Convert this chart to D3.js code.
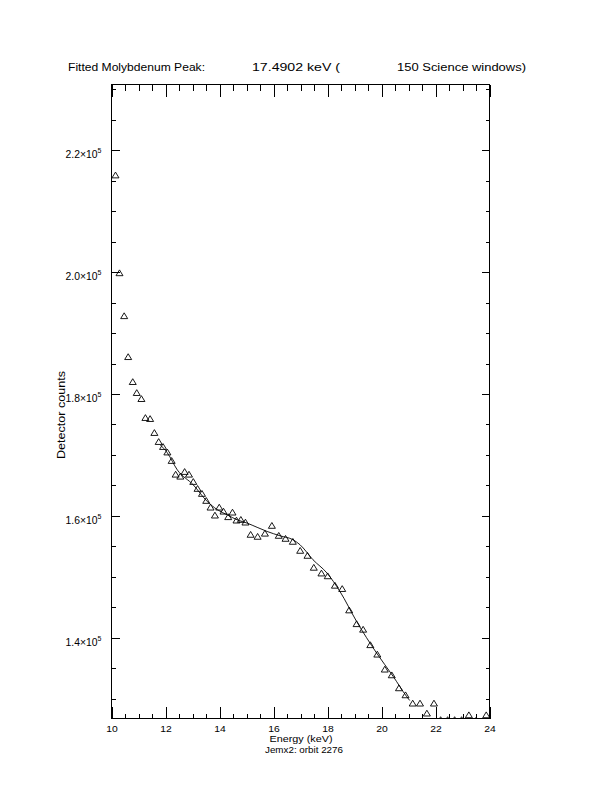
<!DOCTYPE html>
<html><head><meta charset="utf-8">
<script src="https://cdn.jsdelivr.net/npm/d3@7"></script>
<style>body{margin:0;background:#fff}svg{display:block}text{font-family:"Liberation Sans",Arial,sans-serif;fill:#000}</style>
</head><body><svg id="c" width="612" height="792"></svg>
<script>
// Measured spectrum (triangles)
const energy = [10.148,10.296,10.469,10.617,10.787,10.935,11.108,11.256,11.430,11.588,
  11.747,11.910,12.069,12.228,12.375,12.549,12.708,12.870,13.029,13.188,
  13.351,13.509,13.668,13.831,13.990,14.148,14.322,14.481,14.629,14.791,
  14.961,15.153,15.412,15.682,15.940,16.195,16.446,16.716,16.989,17.259,
  17.492,17.776,18.009,18.275,18.545,18.803,19.077,19.320,19.586,19.845,
  20.122,20.380,20.647,20.890,21.156,21.426,21.681,21.943,22.190,22.449,
  22.708,22.966,23.236,23.509,23.879];
const counts = [215900,199840,192790,186070,181970,180170,179180,176070,175900,173610,
  172130,171310,170410,169020,166770,166440,167210,166770,165570,164430,
  163610,162460,161360,160050,161360,160700,159790,160540,159230,159340,
  158900,156890,156560,157080,158360,156720,156230,155740,154260,153440,
  151480,150540,150080,148530,147990,144480,142220,141310,138770,137220,
  134760,133820,131690,130540,129180,129180,127540,129180,126470,126470,
  126470,126470,127260,126420,127260];
// Fitted curve
const fitEnergy = [11.810,12.069,12.438,13.029,13.546,13.916,14.285,14.655,15.024,15.393,
  15.763,16.243,16.723,16.982,17.462,17.979,18.460,19.076,19.815,20.428,20.923,21.045];
const fitCounts = [171640,170330,167540,165080,162350,161020,160160,159340,158800,158110,
  157430,156720,156070,155250,152790,150610,147590,142670,137490,133660,130380,129680];

const xDomain = [10, 24];
const yDomain = [126720, 230820];
const xMajorTicks = [10,12,14,16,18,20,22,24];
const xMinorTicks = d3.range(10.5, 24, 0.5).filter(v => v % 2 !== 0);
const yMajorTicks = [140000,160000,180000,200000,220000];
const yTickMantissa = ["1.4","1.6","1.8","2.0","2.2"];
const yTickExponent = "5";
const yMinorTicks = d3.range(130000, 230001, 5000).filter(v => v % 20000 !== 0);
const titleParts = ["Fitted Molybdenum Peak:", "17.4902 keV (", "150 Science windows)"];
const xTitle = "Energy (keV)";
const yTitle = "Detector counts";
const subTitle = "Jemx2: orbit 2276";

const L = 111.5, R = 489.5, T = 84.5, B = 718.5;
const svg = d3.select("#c");
const x = d3.scaleLinear(xDomain, [L, R]);
const y = d3.scaleLinear(yDomain, [B, T]);

svg.append("defs").append("clipPath").attr("id","clip")
  .append("rect").attr("x",L).attr("y",T).attr("width",R-L).attr("height",B-T);

const axStyle = g => { g.select(".domain").remove(); g.selectAll("line").attr("stroke","#000").attr("shape-rendering","crispEdges"); };

// bottom
svg.append("g").attr("transform",`translate(0,${B})`)
  .call(d3.axisBottom(x).tickValues(xMinorTicks).tickSizeInner(-5).tickSizeOuter(0).tickFormat(""))
  .call(axStyle);
const bx = svg.append("g").attr("transform",`translate(0,${B})`)
  .call(d3.axisBottom(x).tickValues(xMajorTicks).tickSizeInner(-12).tickSizeOuter(0).tickPadding(6.5).tickFormat(d3.format("d")))
  .call(axStyle);
bx.selectAll("text").attr("font-size",9.5).attr("font-family","Liberation Sans").attr("fill","#000")
  .attr("textLength",11.5).attr("lengthAdjust","spacingAndGlyphs");
// top
svg.append("g").attr("transform",`translate(0,${T})`)
  .call(d3.axisTop(x).tickValues(xMinorTicks).tickSizeInner(-6).tickSizeOuter(0).tickFormat(""))
  .call(axStyle);
svg.append("g").attr("transform",`translate(0,${T})`)
  .call(d3.axisTop(x).tickValues(xMajorTicks).tickSizeInner(-12).tickSizeOuter(0).tickFormat(""))
  .call(axStyle);
// left
svg.append("g").attr("transform",`translate(${L},0)`)
  .call(d3.axisLeft(y).tickValues(yMinorTicks).tickSizeInner(-4).tickSizeOuter(0).tickFormat(""))
  .call(axStyle);
const ly = svg.append("g").attr("transform",`translate(${L},0)`)
  .call(d3.axisLeft(y).tickValues(yMajorTicks).tickSizeInner(-8).tickSizeOuter(0).tickFormat(""))
  .call(axStyle);
ly.selectAll(".tick text").remove();
ly.selectAll(".tick").append("text")
  .attr("x",-46).attr("y",7.5).attr("font-size",10).attr("text-anchor","start")
  .attr("font-family","Liberation Sans")
  .each(function(d,i){
    const t = d3.select(this);
    t.append("tspan").attr("textLength",32).attr("lengthAdjust","spacingAndGlyphs").text(yTickMantissa[i] + "×10");
    t.append("tspan").attr("font-size",7).attr("dy",-5).text(yTickExponent);
  });
// right
svg.append("g").attr("transform",`translate(${R},0)`)
  .call(d3.axisRight(y).tickValues(yMinorTicks).tickSizeInner(-4).tickSizeOuter(0).tickFormat(""))
  .call(axStyle);
svg.append("g").attr("transform",`translate(${R},0)`)
  .call(d3.axisRight(y).tickValues(yMajorTicks).tickSizeInner(-8).tickSizeOuter(0).tickFormat(""))
  .call(axStyle);

// frame
svg.append("rect").attr("x",L).attr("y",T).attr("width",R-L).attr("height",B-T)
  .attr("fill","none").attr("stroke","#000").attr("shape-rendering","crispEdges");

// fit line
svg.append("path").datum(d3.zip(fitEnergy, fitCounts))
  .attr("clip-path","url(#clip)")
  .attr("fill","none").attr("stroke","#000").attr("stroke-width",0.9)
  .attr("d", d3.line().x(d=>x(d[0])).y(d=>y(d[1])).curve(d3.curveMonotoneX));

// triangles
const tri = "M0,-3.3L3.5,2.5L-3.5,2.5Z";
svg.append("g").attr("clip-path","url(#clip)")
  .selectAll("path").data(d3.zip(energy, counts)).join("path")
  .attr("transform", d => `translate(${x(d[0])},${y(d[1])})`)
  .attr("d", tri).attr("fill","none").attr("stroke","#000").attr("stroke-width",0.9);

// titles
const titleX = [68, 252, 397], titleW = [137, 88, 129];
titleParts.forEach((s,i) => {
  svg.append("text").attr("x",titleX[i]).attr("y",71).attr("font-size",10)
    .attr("textLength",titleW[i]).attr("lengthAdjust","spacingAndGlyphs").text(s);
});
svg.append("text").attr("x",301).attr("y",742).attr("text-anchor","middle").attr("font-size",9)
  .attr("textLength",63).attr("lengthAdjust","spacingAndGlyphs").text(xTitle);
svg.append("text").attr("x",304).attr("y",752.5).attr("text-anchor","middle").attr("font-size",9)
  .attr("textLength",78).attr("lengthAdjust","spacingAndGlyphs").text(subTitle);
svg.append("text").attr("transform","translate(65,415) rotate(-90)").attr("text-anchor","middle")
  .attr("font-size",10).attr("textLength",88).attr("lengthAdjust","spacingAndGlyphs").text(yTitle);
</script></body></html>
